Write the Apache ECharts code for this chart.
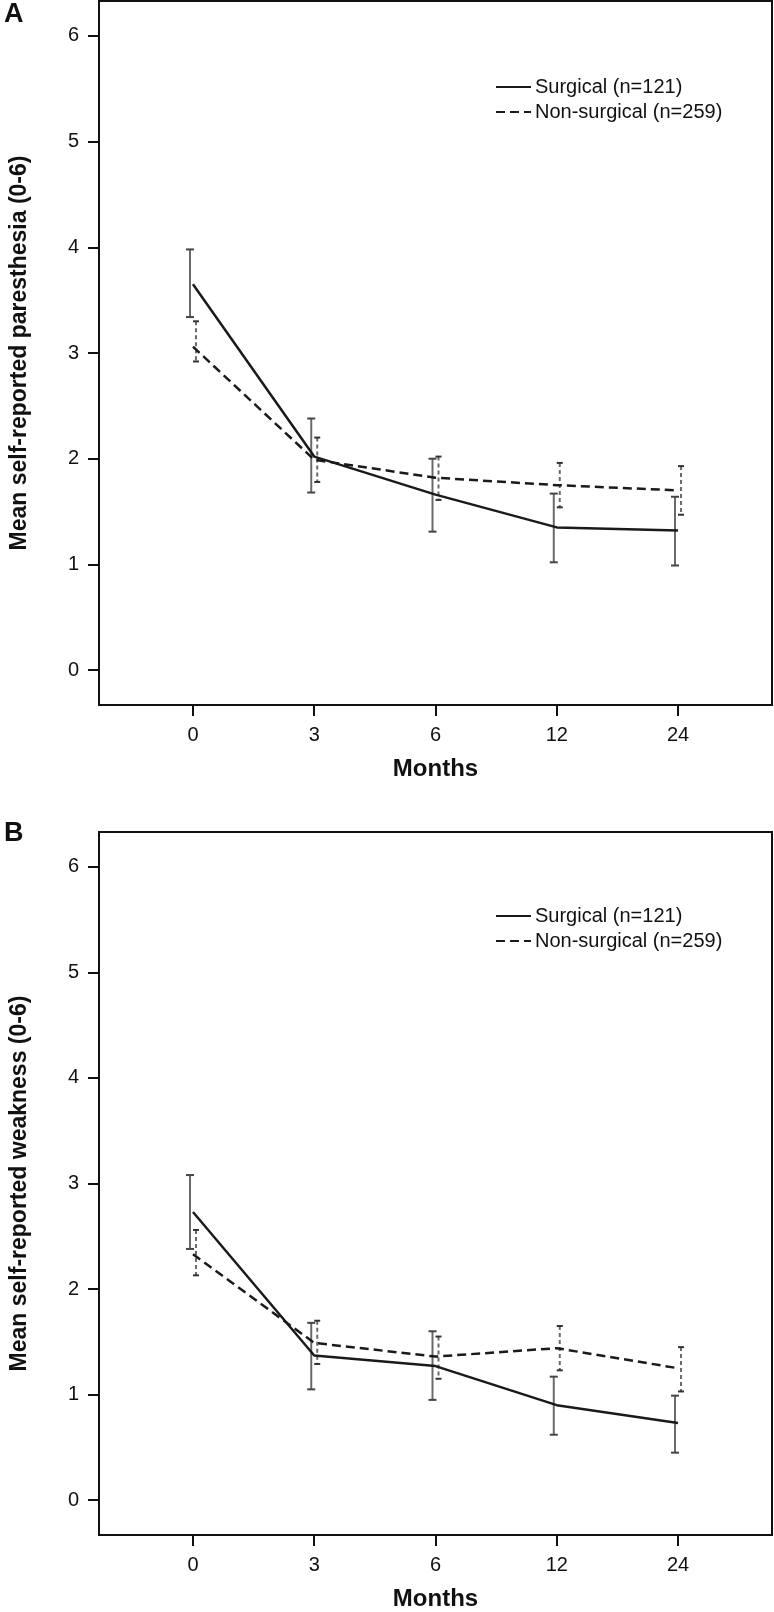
<!DOCTYPE html>
<html>
<head>
<meta charset="utf-8">
<style>html,body{margin:0;padding:0;background:#fff;}#c{width:774px;height:1612px;}</style>
<script src="https://cdn.jsdelivr.net/npm/echarts@6/dist/echarts.min.js"></script>
</head>
<body>
<div id="c"></div>
<script>
// ---- Data ----
const months = ['0', '3', '6', '12', '24'];
const yTicks = [0, 1, 2, 3, 4, 5, 6];
const seriesNames = ['Surgical (n=121)', 'Non-surgical (n=259)'];

// Panel A: paresthesia
const paresSurgMean = [3.65, 2.02, 1.66, 1.35, 1.32];
const paresSurgLow  = [3.34, 1.68, 1.31, 1.02, 0.99];
const paresSurgHigh = [3.98, 2.38, 2.00, 1.67, 1.64];
const paresNonMean  = [3.06, 1.99, 1.82, 1.75, 1.70];
const paresNonLow   = [2.92, 1.78, 1.61, 1.54, 1.47];
const paresNonHigh  = [3.30, 2.20, 2.02, 1.96, 1.93];

// Panel B: weakness
const weakSurgMean = [2.73, 1.37, 1.27, 0.90, 0.73];
const weakSurgLow  = [2.38, 1.05, 0.95, 0.62, 0.45];
const weakSurgHigh = [3.08, 1.68, 1.60, 1.17, 0.99];
const weakNonMean  = [2.33, 1.49, 1.36, 1.44, 1.25];
const weakNonLow   = [2.13, 1.29, 1.15, 1.23, 1.03];
const weakNonHigh  = [2.56, 1.70, 1.55, 1.65, 1.45];

const yTitleA = 'Mean self-reported paresthesia (0-6)';
const yTitleB = 'Mean self-reported weakness (0-6)';
const xTitle = 'Months';

// ---- Build ----
const FONT = '"Liberation Sans", Arial, sans-serif';
const idx = months.map((m, i) => i);
const pts = (arr) => arr.map((v, i) => [i, v]);
const bars = (lo, hi) => lo.map((v, i) => [i, v, hi[i]]);

function errRender(offset, dashed, color) {
  return function (params, api) {
    const x = api.value(0);
    const pLo = api.coord([x, api.value(1)]);
    const pHi = api.coord([x, api.value(2)]);
    const px = pLo[0] + offset;
    const hw = dashed ? 3 : 4;
    const vStyle = { stroke: color, lineWidth: 2, lineDash: dashed ? [4, 3] : null, fill: null };
    const cStyle = { stroke: dashed ? '#333' : '#444', lineWidth: 2, fill: null };
    return {
      type: 'group',
      children: [
        { type: 'line', shape: { x1: px, y1: pHi[1], x2: px, y2: pLo[1] }, style: vStyle },
        { type: 'line', shape: { x1: px - hw, y1: pHi[1], x2: px + hw, y2: pHi[1] }, style: cStyle },
        { type: 'line', shape: { x1: px - hw, y1: pLo[1], x2: px + hw, y2: pLo[1] }, style: cStyle }
      ]
    };
  };
}

function xAxisDef(gridIndex) {
  return {
    type: 'value', gridIndex, min: -0.775, max: 4.775, position: 'bottom',
    name: xTitle, nameLocation: 'middle', nameGap: 52,
    nameTextStyle: { fontFamily: FONT, fontWeight: 'bold', fontSize: 24, color: '#111' },
    axisLine: { show: true, onZero: false, lineStyle: { color: '#111', width: 2 } },
    axisTick: { show: true, inside: false, customValues: idx, length: 11, lineStyle: { color: '#111', width: 2 } },
    axisLabel: { customValues: idx, margin: 20, fontFamily: FONT, fontSize: 20, color: '#111',
      formatter: (v) => months[Math.round(v)] },
    splitLine: { show: false }
  };
}
function yAxisDef(gridIndex, title) {
  return {
    type: 'value', gridIndex, min: -0.33, max: 6.33, position: 'left',
    name: title, nameLocation: 'middle', nameGap: 68, nameRotate: 90,
    nameTextStyle: { fontFamily: FONT, fontWeight: 'bold', fontSize: 23, color: '#111' },
    axisLine: { show: true, onZero: false, lineStyle: { color: '#111', width: 2 } },
    axisTick: { show: true, inside: false, customValues: yTicks, length: 11, lineStyle: { color: '#111', width: 2 } },
    axisLabel: { customValues: yTicks, margin: 20, fontFamily: FONT, fontSize: 20, color: '#111' },
    splitLine: { show: false }
  };
}

function panelSeries(gi, sM, sL, sH, nM, nL, nH, tag) {
  return [
    { type: 'custom', name: 'ciS' + tag, xAxisIndex: gi, yAxisIndex: gi, data: bars(sL, sH),
      renderItem: errRender(-3, false, '#6a6a6a'), z: 2, silent: true },
    { type: 'custom', name: 'ciN' + tag, xAxisIndex: gi, yAxisIndex: gi, data: bars(nL, nH),
      renderItem: errRender(3, true, '#6a6a6a'), z: 2, silent: true },
    { type: 'line', name: seriesNames[0], xAxisIndex: gi, yAxisIndex: gi, data: pts(sM),
      symbol: 'none', lineStyle: { color: '#1a1a1a', width: 2.5 }, itemStyle: { color: '#1a1a1a' }, z: 3 },
    { type: 'line', name: seriesNames[1], xAxisIndex: gi, yAxisIndex: gi, data: pts(nM),
      symbol: 'none', lineStyle: { color: '#1a1a1a', width: 2.5, type: [9, 5] }, itemStyle: { color: '#1a1a1a' }, z: 3 }
  ];
}

function legendDef(top) {
  return {
    data: seriesNames.map((n) => ({ name: n, itemStyle: { opacity: 0 } })),
    orient: 'vertical', left: 490, top, itemGap: 5,
    itemWidth: 35, itemHeight: 14, selectedMode: false,
    itemStyle: { opacity: 0 },
    textStyle: { fontFamily: FONT, fontSize: 20, color: '#111', padding: [0, 0, 0, -1] }
  };
}

const option = {
  animation: false,
  backgroundColor: '#fff',
  title: [
    { text: 'A', left: 4, top: 1, padding: 0, textStyle: { fontFamily: FONT, fontWeight: 'bold', fontSize: 27, color: '#111' } },
    { text: 'B', left: 4, top: 820, padding: 0, textStyle: { fontFamily: FONT, fontWeight: 'bold', fontSize: 27, color: '#111' } }
  ],
  grid: [
    { left: 93, top: 1, width: 679, height: 704, show: true, borderColor: '#111', borderWidth: 2, backgroundColor: 'transparent' },
    { left: 93, top: 832, width: 679, height: 704, show: true, borderColor: '#111', borderWidth: 2, backgroundColor: 'transparent' }
  ],
  legend: [legendDef(72), legendDef(901)],
  xAxis: [xAxisDef(0), xAxisDef(1)],
  yAxis: [yAxisDef(0, yTitleA), yAxisDef(1, yTitleB)],
  series: [
    ...panelSeries(0, paresSurgMean, paresSurgLow, paresSurgHigh, paresNonMean, paresNonLow, paresNonHigh, 'A'),
    ...panelSeries(1, weakSurgMean, weakSurgLow, weakSurgHigh, weakNonMean, weakNonLow, weakNonHigh, 'B')
  ]
};

const chart = echarts.init(document.getElementById('c'), null, { renderer: 'canvas' });
chart.setOption(option);
</script>
</body>
</html>
